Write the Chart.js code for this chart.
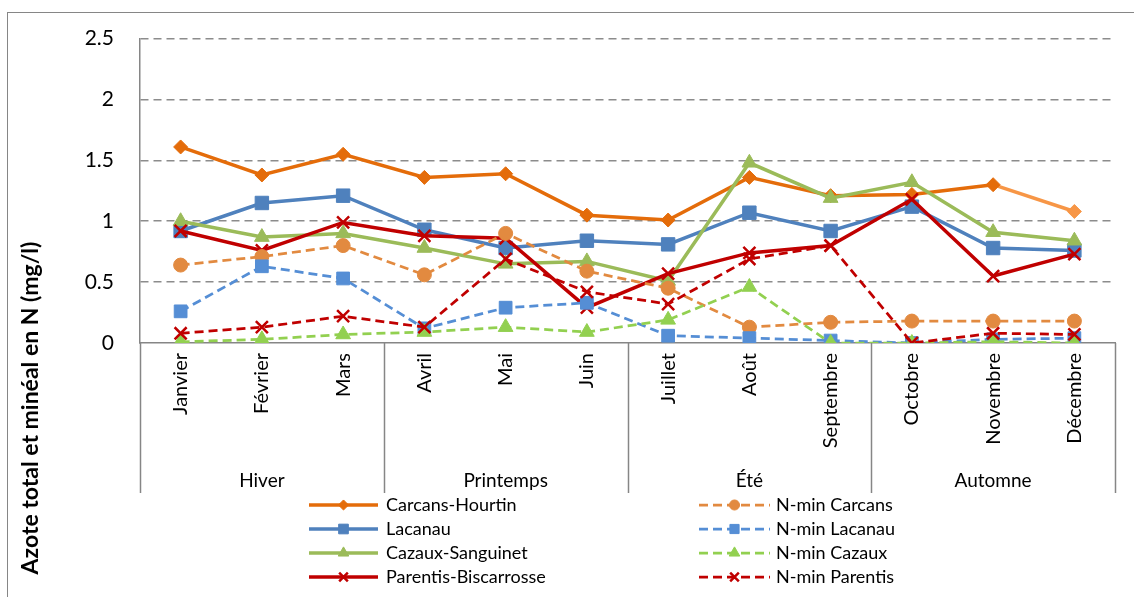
<!DOCTYPE html>
<html>
<head>
<meta charset="utf-8">
<script src="https://cdn.jsdelivr.net/npm/chart.js@4.4.0/dist/chart.umd.min.js"></script>
<style>
  html, body { margin: 0; padding: 0; background: #fff; overflow: hidden; }
</style>
</head>
<body>
<canvas id="azoteChart" width="1134" height="597"></canvas>
<script>
// données (mg/l)
const months = ["Janvier", "Février", "Mars", "Avril", "Mai", "Juin", "Juillet", "Août", "Septembre", "Octobre", "Novembre", "Décembre"];
const seasons = ["Hiver", "Printemps", "Été", "Automne"];
const yTickStep = 0.5;
const yMax = 2.5;

const carcansHourtin = [1.61, 1.38, 1.55, 1.36, 1.39, 1.05, 1.01, 1.36, 1.21, 1.22, 1.30, 1.08];
const lacanau = [0.92, 1.15, 1.21, 0.93, 0.78, 0.84, 0.81, 1.07, 0.92, 1.12, 0.78, 0.76];
const cazauxSanguinet = [1.00, 0.87, 0.90, 0.78, 0.65, 0.67, 0.51, 1.48, 1.19, 1.32, 0.91, 0.84];
const parentisBiscarrosse = [0.92, 0.76, 0.99, 0.88, 0.86, 0.29, 0.57, 0.74, 0.80, 1.18, 0.55, 0.73];
const nminCarcans = [0.64, 0.71, 0.80, 0.56, 0.90, 0.59, 0.45, 0.13, 0.17, 0.18, 0.18, 0.18];
const nminLacanau = [0.26, 0.63, 0.53, 0.12, 0.29, 0.33, 0.06, 0.04, 0.02, 0.00, 0.03, 0.04];
const nminCazaux = [0.01, 0.03, 0.07, 0.09, 0.13, 0.09, 0.19, 0.46, 0.00, 0.00, 0.01, 0.00];
const nminParentis = [0.08, 0.13, 0.22, 0.13, 0.69, 0.42, 0.32, 0.69, 0.80, 0.00, 0.08, 0.07];

const FONT = "Lato, 'Open Sans', sans-serif";
const GRAY = "#868686";
const lightOrange = "#F79646";

// une fonction pour fabriquer chaque série
function makeSeries(label, data, color, pointStyle, radius, dashed) {
  return {
    label: label,
    data: data,
    borderColor: color,
    backgroundColor: color,
    pointBackgroundColor: color,
    pointBorderColor: color,
    borderWidth: dashed ? 2.75 : 3.5,
    borderDash: dashed ? [9, 5] : [],
    pointStyle: pointStyle,
    pointRadius: radius,
    pointHoverRadius: radius,
    pointBorderWidth: pointStyle === "crossRot" ? 2.5 : 1,
    tension: 0,
    fill: false,
  };
}

const datasets = [
  makeSeries("Carcans-Hourtin", carcansHourtin, "#E46C0A", "rectRot", 7, false),
  makeSeries("Lacanau", lacanau, "#4F81BD", "rect", 9.5, false),
  makeSeries("Cazaux-Sanguinet", cazauxSanguinet, "#9BBB59", "triangle", 8.5, false),
  makeSeries("Parentis-Biscarrosse", parentisBiscarrosse, "#C00000", "crossRot", 8.5, false),
  makeSeries("N-min Carcans", nminCarcans, "#E28A40", "circle", 7, true),
  makeSeries("N-min Lacanau", nminLacanau, "#558ED5", "rect", 9, true),
  makeSeries("N-min Cazaux", nminCazaux, "#92D050", "triangle", 8.5, true),
  makeSeries("N-min Parentis", nminParentis, "#C00000", "crossRot", 8.5, true),
];

// le dernier segment de Carcans-Hourtin est plus clair
datasets[0].segment = {
  borderColor: (c) => (c.p1DataIndex === months.length - 1 ? lightOrange : undefined),
};
datasets[0].pointBackgroundColor = carcansHourtin.map((v, i) => (i === months.length - 1 ? lightOrange : "#E46C0A"));
datasets[0].pointBorderColor = datasets[0].pointBackgroundColor;

// comme dans Excel : la dernière série est dessinée au-dessus
datasets.forEach((ds, i) => { ds.order = datasets.length - i; });

// saisons, séparateurs, légende, titre de l'axe, cadre
const decorPlugin = {
  id: "decor",
  afterDraw(chart) {
    const ctx = chart.ctx;
    const area = chart.chartArea;
    const x = chart.scales.x;
    const bandBottom = area.bottom + 150;

    ctx.save();
    // cadre
    ctx.strokeStyle = GRAY;
    ctx.lineWidth = 1;
    ctx.strokeRect(7.5, 12.5, 1300, 700);

    // séparateurs des saisons
    const perSeason = months.length / seasons.length;
    const bounds = [area.left];
    for (let s = 1; s < seasons.length; s++) {
      const i = s * perSeason;
      bounds.push((x.getPixelForValue(i - 1) + x.getPixelForValue(i)) / 2);
    }
    bounds.push(area.right);
    ctx.lineWidth = 1.5;
    bounds.forEach((bx) => {
      ctx.beginPath();
      ctx.moveTo(Math.round(bx) + 0.5, area.bottom);
      ctx.lineTo(Math.round(bx) + 0.5, bandBottom);
      ctx.stroke();
    });

    ctx.fillStyle = "#000";
    ctx.font = "19px " + FONT;
    ctx.textAlign = "center";
    ctx.textBaseline = "middle";
    seasons.forEach((name, s) => {
      ctx.fillText(name, (bounds[s] + bounds[s + 1]) / 2, area.bottom + 138);
    });

    // titre de l'axe y
    ctx.save();
    ctx.translate(31, 408);
    ctx.rotate(-Math.PI / 2);
    ctx.font = "bold 23px " + FONT;
    ctx.fillText("Azote total et minéal en N (mg/l)", 0, 0);
    ctx.restore();

    // légende en deux colonnes
    const cols = [
      { x1: 309, x2: 378, tx: 386 },
      { x1: 699, x2: 770, tx: 776 },
    ];
    const rowY = [505, 529, 553, 577];
    chart.data.datasets.forEach((ds, i) => {
      const col = cols[Math.floor(i / 4)];
      const y = rowY[i % 4];
      ctx.strokeStyle = ds.borderColor;
      ctx.lineWidth = ds.borderWidth;
      ctx.setLineDash(ds.borderDash);
      ctx.beginPath();
      ctx.moveTo(col.x1, y);
      ctx.lineTo(col.x2, y);
      ctx.stroke();
      ctx.setLineDash([]);
      ctx.fillStyle = ds.backgroundColor;
      ctx.lineWidth = ds.pointBorderWidth;
      Chart.helpers.drawPoint(ctx, {
        pointStyle: ds.pointStyle,
        rotation: 0,
        radius: ds.pointRadius * 0.72,
        borderWidth: ds.pointBorderWidth,
      }, (col.x1 + col.x2) / 2, y);
      ctx.fillStyle = "#000";
      ctx.font = "18px " + FONT;
      ctx.textAlign = "left";
      ctx.fillText(ds.label, col.tx, y);
    });
    ctx.restore();
  },
};

new Chart(document.getElementById("azoteChart"), {
  type: "line",
  data: { labels: months, datasets: datasets },
  plugins: [decorPlugin],
  options: {
    responsive: false,
    devicePixelRatio: 1,
    animation: false,
    layout: { padding: { top: 34, right: 19, left: 0, bottom: 0 } },
    plugins: {
      legend: { display: false },
      tooltip: { enabled: false },
    },
    scales: {
      x: {
        type: "category",
        offset: true,
        grid: { display: false, drawTicks: false },
        border: { display: true, color: GRAY, width: 1.5 },
        ticks: {
          autoSkip: false,
          minRotation: 90,
          maxRotation: 90,
          padding: 10,
          color: "#000",
          font: { family: FONT, size: 20 },
        },
        afterFit: (scale) => { scale.height = 254; },
      },
      y: {
        min: 0,
        max: yMax,
        grid: {
          drawTicks: false,
          color: (c) => (c.tick && c.tick.value === 0 ? "rgba(0,0,0,0)" : "#8C8C8C"),
          lineWidth: 1.5,
        },
        border: { display: true, color: GRAY, width: 1.5, dash: [8, 5] },
        ticks: {
          stepSize: yTickStep,
          padding: 26,
          color: "#000",
          font: { family: FONT, size: 21 },
          callback: (v) => String(v),
        },
        afterFit: (scale) => { scale.width = 140; },
      },
    },
  },
});
</script>
</body>
</html>
